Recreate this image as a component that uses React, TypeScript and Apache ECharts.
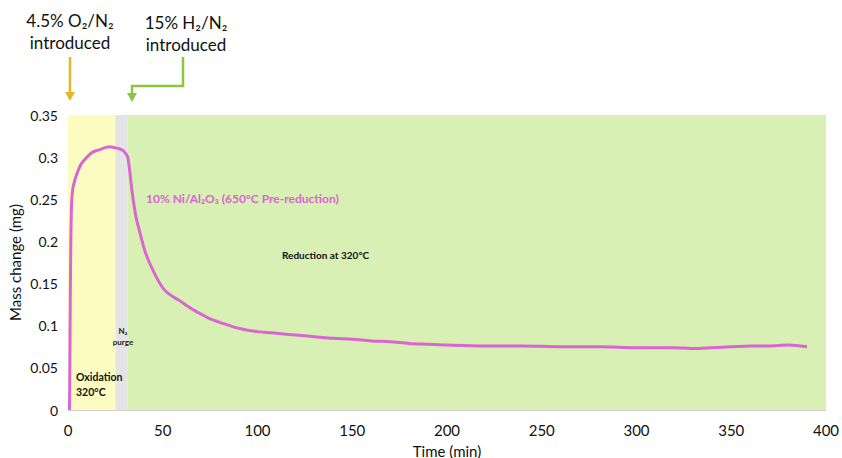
import React, { useEffect, useRef } from "react";
import * as echarts from "echarts";

const timeMin = [0.8, 1.0, 1.2, 1.5, 1.9, 2.5, 3.5, 5, 7, 10, 13, 17, 21, 23, 25, 27, 29, 30.5, 31.5, 32.5, 33.5, 34.5, 36, 38, 40, 42, 45, 48, 50, 52, 55, 58, 62, 66, 70, 75, 80, 90, 100, 110, 120, 130, 140, 150, 160, 170, 180, 190, 200, 220, 240, 260, 280, 300, 320, 330, 340, 350, 360, 370, 380, 390];
const massMg = [0, 0.06, 0.13, 0.2, 0.245, 0.262, 0.272, 0.282, 0.292, 0.3, 0.306, 0.309, 0.312, 0.312, 0.311, 0.31, 0.308, 0.304, 0.3, 0.285, 0.265, 0.248, 0.228, 0.21, 0.193, 0.18, 0.165, 0.152, 0.145, 0.14, 0.135, 0.131, 0.125, 0.119, 0.114, 0.108, 0.104, 0.097, 0.093, 0.091, 0.089, 0.087, 0.085, 0.084, 0.082, 0.081, 0.079, 0.078, 0.077, 0.076, 0.076, 0.075, 0.075, 0.074, 0.074, 0.073, 0.074, 0.075, 0.076, 0.076, 0.077, 0.075];

const phases = [
  { name: "oxidation", from: 0, to: 25, color: "#FCFCC2" },
  { name: "purge", from: 25, to: 31.5, color: "#E4E4E4" },
  { name: "reduction", from: 31.5, to: 400, color: "#D8F0B4" },
];

const font = "Lato, 'Open Sans', sans-serif";

export default function App() {
  const ref = useRef<HTMLDivElement>(null);
  useEffect(() => {
    const chart = echarts.init(ref.current!, null, { renderer: "svg" });
    const lineColor = "#D966D2";
    chart.setOption({
      animation: false,
      grid: { left: 68, right: 16, top: 115, bottom: 48, outerBoundsMode: "none", containLabel: false },
      xAxis: {
        type: "value",
        min: 0,
        max: 400,
        interval: 50,
        name: "Time (min)",
        nameLocation: "middle",
        nameGap: 33,
        nameMoveOverlap: false,
        nameTextStyle: { fontFamily: font, fontSize: 15, color: "#111" },
        axisLine: { show: true, lineStyle: { color: "#D0D0D0", width: 1 } },
        axisTick: { show: false },
        splitLine: { show: false },
        axisLabel: { fontFamily: font, fontSize: 15, color: "#111", margin: 12 },
      },
      yAxis: {
        type: "value",
        min: 0,
        max: 0.35,
        interval: 0.05,
        name: "Mass change (mg)",
        nameLocation: "middle",
        nameGap: 46,
        nameMoveOverlap: false,
        nameTextStyle: { fontFamily: font, fontSize: 15, color: "#111" },
        axisLine: { show: false },
        axisTick: { show: false },
        splitLine: { show: false },
        axisLabel: { fontFamily: font, fontSize: 14, color: "#111", margin: 10 },
      },
      series: [
        {
          type: "line",
          data: timeMin.map((t, i) => [t, massMg[i]]),
          showSymbol: false,
          smooth: 0.3,
          lineStyle: { color: lineColor, width: 3 },
          z: 3,
          markArea: {
            silent: true,
            data: phases.map((p) => [
              { xAxis: p.from, yAxis: 0, itemStyle: { color: p.color } },
              { xAxis: p.to, yAxis: 0.35 },
            ]),
          },
        },
      ],
      graphic: [
        {
          type: "text",
          x: 70,
          y: 9,
          z: 100,
          style: {
            text: "4.5% O₂/N₂\nintroduced",
            fontFamily: font,
            fontSize: 17,
            lineHeight: 22,
            fill: "#111",
            align: "center",
          },
        },
        {
          type: "text",
          x: 186,
          y: 11,
          z: 100,
          style: {
            text: "15% H₂/N₂\nintroduced",
            fontFamily: font,
            fontSize: 17,
            lineHeight: 22,
            fill: "#111",
            align: "center",
          },
        },
        { type: "line", z: 100, shape: { x1: 70, y1: 57, x2: 70, y2: 94 }, style: { stroke: "#E5B62A", lineWidth: 2.5 } },
        { type: "polygon", z: 100, shape: { points: [[65, 92], [75, 92], [70, 101]] }, style: { fill: "#E5B62A" } },
        {
          type: "polyline",
          z: 100,
          shape: { points: [[183, 57], [183, 86], [132, 86], [132, 95]] },
          style: { stroke: "#8CC63F", lineWidth: 2.5, fill: null },
        },
        { type: "polygon", z: 100, shape: { points: [[127, 93], [137, 93], [132, 102]] }, style: { fill: "#8CC63F" } },
        {
          type: "text",
          x: 146,
          y: 192,
          z: 100,
          style: {
            text: "10% Ni/Al₂O₃ (650°C Pre-reduction)",
            fontFamily: font,
            fontSize: 12,
            fontWeight: "bold",
            fill: "#D966D2",
          },
        },
        {
          type: "text",
          x: 282,
          y: 250,
          z: 100,
          style: { text: "Reduction at 320°C", fontFamily: font, fontSize: 10, fontWeight: "bold", fill: "#111" },
        },
        {
          type: "text",
          x: 123,
          y: 325,
          z: 100,
          style: {
            text: "N₂\npurge",
            fontFamily: font,
            fontSize: 8,
            lineHeight: 11,
            fontWeight: "bold",
            fill: "#222",
            align: "center",
          },
        },
        {
          type: "text",
          x: 76,
          y: 369,
          z: 100,
          style: {
            text: "Oxidation\n320°C",
            fontFamily: font,
            fontSize: 10.5,
            lineHeight: 15,
            fontWeight: "bold",
            fill: "#111",
          },
        },
      ],
    });
    return () => chart.dispose();
  }, []);
  return <div ref={ref} style={{ width: 842, height: 458, position: "absolute", left: 0, top: 0 }} />;
}
